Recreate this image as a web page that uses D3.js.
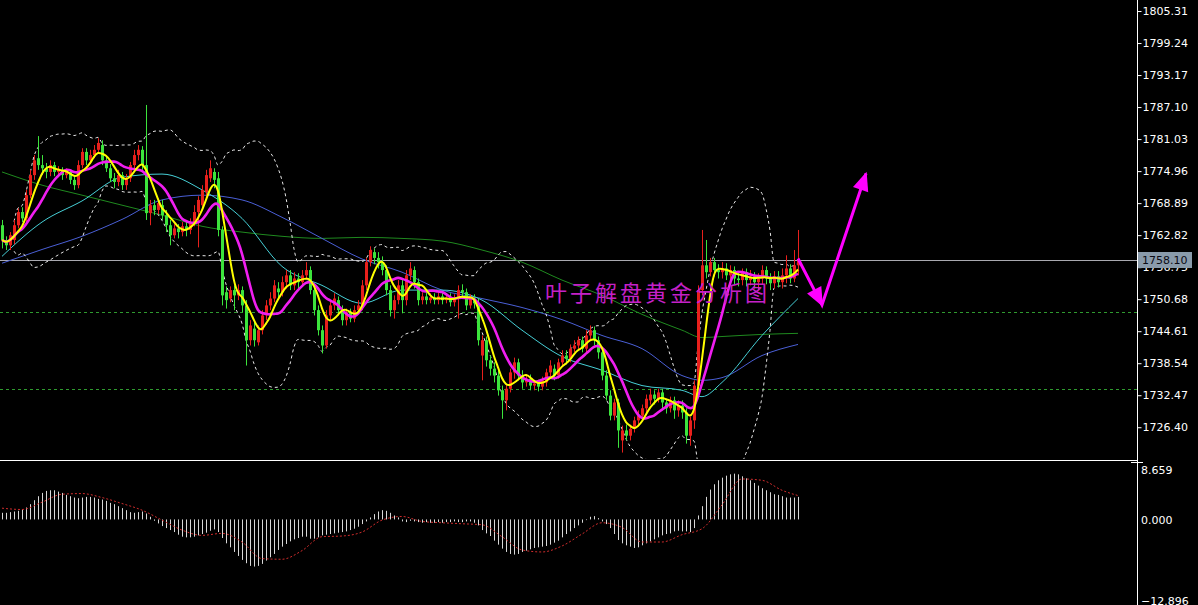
<!DOCTYPE html>
<html><head><meta charset="utf-8">
<script src="https://cdn.jsdelivr.net/npm/d3@7"></script>
<style>html,body{margin:0;padding:0;background:#000;overflow:hidden}</style>
</head><body>
<svg id="c" width="1198" height="605"></svg>
<script>
// ---------- DATA ----------
const openP=[1764.7,1761.9,1760.9,1761.9,1764.7,1767.2,1766.0,1770.4,1774.2,1777.4,
1776.1,1775.5,1774.8,1776.1,1774.8,1775.2,1774.2,1774.8,1773.3,1772.3,
1776.1,1778.6,1777.0,1778.0,1779.0,1779.9,1777.0,1775.5,1773.6,1772.9,
1774.2,1772.3,1773.6,1776.1,1778.0,1779.0,1776.1,1767.0,1768.5,1767.6,
1768.5,1766.6,1764.7,1762.8,1764.1,1763.4,1764.5,1763.8,1765.3,1767.2,
1768.5,1771.0,1773.6,1774.8,1773.6,1763.8,1752.0,1750.8,1752.4,1751.4,
1752.4,1749.5,1742.9,1745.1,1742.5,1744.8,1747.6,1749.5,1750.8,1752.7,
1752.0,1753.9,1755.2,1753.3,1754.6,1753.9,1755.2,1756.2,1752.4,1748.6,
1744.8,1741.9,1747.6,1749.5,1750.5,1748.6,1746.7,1748.2,1747.0,1748.6,
1749.5,1753.3,1757.7,1759.6,1758.5,1757.7,1756.2,1752.4,1748.6,1750.5,
1753.3,1750.5,1755.2,1756.2,1753.9,1750.5,1751.2,1750.5,1751.0,1750.5,
1751.2,1750.5,1751.0,1750.1,1750.8,1752.4,1752.0,1749.5,1750.8,1749.9,
1740.0,1742.9,1739.1,1737.5,1736.2,1733.4,1731.5,1733.7,1736.8,1738.7,
1736.2,1734.9,1735.6,1734.3,1734.7,1734.1,1734.9,1736.8,1737.5,1736.2,
1738.7,1740.0,1739.4,1741.3,1741.9,1742.9,1741.3,1743.8,1744.8,1742.9,
1740.6,1736.2,1732.4,1728.6,1731.1,1723.9,1725.8,1724.8,1726.1,1727.7,
1728.6,1730.0,1731.5,1732.6,1731.8,1733.0,1731.1,1730.0,1731.5,1729.6,
1730.5,1729.2,1724.8,1727.7,1734.3,1752.4,1757.1,1755.8,1757.7,1756.2,
1755.8,1756.5,1755.2,1756.2,1754.6,1754.3,1755.8,1754.3,1755.0,1753.9,
1754.6,1756.2,1754.6,1753.7,1755.0,1753.9,1755.2,1756.5,1754.6,1757.1];
const highP=[1765.7,1762.6,1763.4,1765.7,1767.9,1768.1,1771.4,1775.2,1778.0,1781.6,
1778.0,1776.5,1777.0,1776.7,1775.9,1775.7,1775.5,1775.2,1774.0,1777.0,
1779.3,1779.3,1779.0,1779.9,1781.2,1780.8,1777.8,1776.3,1774.6,1775.2,
1774.8,1774.4,1776.7,1779.0,1779.9,1779.7,1787.5,1769.5,1769.5,1769.8,
1769.5,1767.6,1765.7,1764.9,1764.9,1765.3,1765.3,1766.0,1768.5,1770.2,
1772.3,1775.2,1777.0,1775.5,1774.8,1764.5,1753.1,1753.1,1753.3,1753.5,
1753.1,1750.5,1746.7,1746.3,1745.7,1748.6,1750.5,1752.0,1754.3,1753.9,
1755.0,1756.2,1756.2,1755.8,1755.6,1756.2,1757.7,1756.9,1753.3,1749.5,
1745.7,1748.6,1750.5,1751.8,1751.2,1749.5,1748.9,1748.9,1749.5,1750.5,
1754.3,1758.5,1760.7,1760.3,1759.6,1758.8,1757.1,1753.3,1751.4,1754.3,
1754.3,1756.2,1757.7,1756.9,1754.6,1752.0,1752.0,1751.8,1751.8,1752.0,
1752.0,1751.8,1751.8,1751.6,1753.3,1753.5,1752.7,1751.6,1751.6,1750.8,
1743.8,1743.6,1740.0,1738.7,1737.2,1734.3,1734.5,1737.5,1739.6,1739.4,
1737.2,1736.4,1736.4,1735.4,1735.4,1736.0,1737.5,1739.1,1738.3,1739.4,
1741.0,1741.0,1742.1,1742.9,1743.6,1743.6,1744.8,1745.7,1745.5,1743.6,
1741.3,1737.2,1733.4,1731.8,1731.8,1726.7,1726.9,1726.9,1728.4,1729.6,
1730.7,1732.6,1733.7,1733.4,1733.7,1733.7,1731.8,1732.2,1732.2,1731.5,
1731.5,1730.0,1728.4,1735.3,1753.3,1763.8,1761.9,1758.5,1758.5,1757.3,
1757.7,1757.5,1757.1,1756.9,1755.8,1756.5,1756.5,1756.2,1755.8,1755.6,
1757.1,1756.9,1755.6,1756.0,1756.0,1756.5,1759.0,1757.3,1760.0,1763.8];
const lowP=[1760.3,1760.0,1760.0,1761.1,1764.1,1765.3,1765.3,1769.8,1773.3,1775.2,
1774.2,1773.6,1774.0,1774.0,1773.8,1773.3,1773.6,1772.5,1771.4,1771.7,
1775.5,1776.1,1776.3,1777.4,1778.4,1776.1,1774.8,1772.9,1771.7,1772.1,
1771.4,1771.4,1772.9,1775.5,1777.0,1775.2,1765.7,1764.7,1766.6,1766.8,
1765.7,1763.4,1760.9,1762.2,1762.2,1762.6,1762.6,1763.0,1764.5,1760.5,
1767.6,1770.2,1772.9,1771.7,1762.6,1749.5,1748.9,1750.1,1748.6,1750.5,
1748.2,1738.1,1741.9,1741.7,1741.9,1744.0,1746.7,1748.6,1750.1,1750.8,
1751.2,1752.7,1752.4,1752.4,1752.7,1753.1,1754.3,1751.6,1747.6,1743.8,
1740.4,1741.3,1746.7,1748.6,1747.6,1745.7,1745.7,1746.3,1746.3,1747.8,
1748.6,1752.4,1756.9,1757.3,1756.5,1755.2,1751.4,1747.4,1747.0,1749.7,
1748.0,1749.5,1754.3,1752.7,1749.5,1749.7,1749.7,1749.9,1749.7,1749.7,
1749.7,1749.9,1749.3,1749.3,1747.0,1750.8,1748.6,1748.9,1748.9,1741.9,
1735.3,1737.9,1736.2,1734.9,1732.4,1728.0,1729.6,1733.0,1735.6,1735.3,
1733.7,1734.1,1733.4,1733.4,1733.2,1733.4,1734.1,1736.0,1735.3,1735.6,
1737.9,1738.3,1738.7,1740.6,1741.0,1740.6,1740.6,1742.9,1741.9,1739.4,
1735.3,1731.5,1727.7,1727.7,1722.5,1721.6,1723.9,1723.9,1725.4,1726.9,
1728.0,1729.2,1730.7,1730.7,1731.1,1730.0,1729.0,1729.2,1728.0,1728.4,
1728.0,1723.3,1722.9,1726.1,1733.4,1751.4,1754.6,1755.0,1755.0,1754.6,
1754.6,1754.3,1754.3,1753.5,1753.1,1753.3,1753.1,1753.3,1752.7,1752.4,
1753.5,1753.5,1752.4,1752.7,1752.9,1752.7,1753.7,1753.7,1753.9,1755.2];
const closeP=[1761.9,1760.9,1762.8,1764.7,1767.2,1766.0,1770.4,1774.2,1777.0,1776.1,
1775.5,1774.8,1776.1,1774.8,1775.2,1774.2,1774.8,1773.3,1772.3,1776.1,
1778.6,1777.0,1778.0,1779.0,1780.3,1777.0,1775.5,1773.6,1772.9,1774.2,
1772.3,1773.6,1776.1,1778.0,1779.0,1776.1,1767.0,1768.5,1767.6,1768.9,
1766.6,1764.7,1762.8,1764.1,1763.4,1764.5,1763.8,1765.3,1767.2,1769.5,
1771.4,1774.2,1775.5,1773.3,1763.8,1751.4,1750.5,1752.4,1751.4,1752.4,
1749.5,1742.9,1745.7,1742.9,1744.8,1747.6,1749.5,1750.8,1753.3,1752.0,
1753.9,1755.2,1753.3,1754.6,1753.9,1755.2,1756.2,1752.4,1748.6,1744.8,
1741.9,1747.6,1749.5,1750.8,1748.6,1746.7,1748.2,1747.0,1748.6,1749.5,
1753.3,1757.7,1760.0,1758.5,1757.7,1756.2,1752.4,1748.6,1750.5,1753.3,
1750.5,1755.2,1756.5,1753.9,1750.5,1751.2,1750.5,1751.0,1750.5,1751.2,
1750.5,1751.0,1750.1,1750.8,1752.4,1752.0,1749.5,1750.8,1749.9,1742.9,
1742.9,1739.1,1737.5,1736.2,1733.4,1731.5,1733.7,1736.8,1738.7,1736.2,
1734.9,1735.6,1734.3,1734.7,1734.1,1735.3,1736.8,1738.1,1736.2,1738.7,
1740.0,1739.4,1741.3,1741.9,1742.9,1741.3,1743.8,1744.8,1742.9,1740.6,
1736.2,1732.4,1728.6,1731.1,1725.8,1725.8,1724.8,1726.1,1727.7,1728.6,
1730.0,1731.8,1732.6,1731.8,1733.0,1731.1,1730.0,1731.5,1729.6,1730.5,
1729.2,1724.8,1727.7,1734.3,1752.4,1757.1,1755.8,1757.7,1756.2,1755.8,
1756.5,1755.2,1756.2,1754.6,1754.3,1755.8,1754.3,1755.0,1753.9,1754.6,
1756.2,1754.6,1753.7,1755.0,1753.9,1755.2,1756.5,1754.6,1757.1,1758.1];

const priceTicks=[1805.31,1799.24,1793.17,1787.10,1781.03,1774.96,1768.89,1762.82,1756.75,1750.68,1744.61,1738.54,1732.47,1726.40];
const lastPrice=1758.10;
const levelLines=[1748.2,1733.7];

// long moving averages read at sample bars
const sampleIdx=[0,10,20,30,40,50,60,70,80,90,100,110,120,130,140,150,160,170,175,180,190,199];
const maCyan=[1758.8,1765.3,1769.3,1773.8,1774.4,1771.4,1766.0,1756.9,1753.3,1749.9,1752.4,1752.4,1750.5,1744.8,1739.8,1737.2,1734.3,1733.4,1732.2,1734.9,1743.8,1750.8];
const maBlue=[1757.5,1760.1,1762.6,1765.8,1769.5,1770.4,1769.5,1766.2,1762.2,1758.3,1755.8,1752.4,1750.8,1749.1,1746.8,1743.8,1741.3,1736.2,1735.3,1735.8,1740.0,1742.1];
const maGreen=[1774.8,1772.3,1770.4,1768.5,1766.6,1764.5,1763.4,1762.6,1762.2,1762.4,1762.2,1761.7,1760.0,1757.7,1754.3,1751.4,1747.8,1744.8,1743.4,1743.6,1744.0,1744.2];

// MACD
const macdHist=[1.0,1.0,1.1,1.2,1.3,1.5,1.8,2.3,2.9,3.5,
4.0,4.3,4.4,4.4,4.2,4.0,3.7,3.5,3.3,3.2,
3.3,3.4,3.4,3.3,3.1,3.0,2.8,2.5,2.3,2.0,
1.7,1.4,1.1,1.0,1.1,1.2,0.9,0.4,-0.2,-0.6,
-1.0,-1.3,-1.6,-1.9,-2.3,-2.6,-2.7,-2.7,-2.6,-2.4,
-2.2,-2.0,-1.7,-1.5,-1.9,-2.8,-3.6,-4.2,-4.9,-5.5,
-6.1,-6.6,-7.0,-7.1,-7.0,-6.7,-6.2,-5.7,-5.2,-4.6,
-4.1,-3.7,-3.3,-3.0,-2.8,-2.6,-2.6,-2.9,-2.9,-2.7,
-2.4,-2.3,-2.2,-2.1,-2.0,-1.9,-1.8,-1.6,-1.4,-1.1,
-0.7,-0.3,0.3,0.8,1.2,1.4,1.3,1.0,0.6,0.3,
-0.3,-0.4,-0.2,-0.3,-0.4,-0.5,-0.4,-0.5,-0.5,-0.4,
-0.5,-0.4,-0.4,-0.3,-0.4,-0.4,-0.3,-0.3,-0.5,-0.9,
-1.6,-2.1,-2.5,-3.2,-3.8,-4.4,-4.9,-5.2,-5.3,-5.2,
-4.9,-4.7,-4.5,-4.3,-4.2,-4.1,-4.0,-3.8,-3.5,-3.2,
-2.7,-2.2,-1.8,-1.3,-0.9,-0.5,-0.1,0.4,0.5,0.2,
-0.3,-0.7,-1.3,-2.2,-3.1,-3.6,-3.9,-4.1,-4.3,-4.2,
-3.9,-3.6,-3.3,-3.0,-2.7,-2.4,-2.2,-2.1,-1.8,-1.7,
-1.8,-1.8,-1.9,-1.3,0.6,2.0,3.4,4.5,5.3,5.9,
6.3,6.6,6.8,6.9,6.8,6.5,6.2,5.9,5.5,5.1,
4.7,4.4,4.1,3.8,3.7,3.5,3.3,3.3,3.3,3.4];
const signalIdx=[0,5,10,15,20,25,30,35,40,45,50,55,60,65,70,75,80,85,90,95,100,105,110,115,120,125,130,135,140,145,150,155,160,165,170,175,180,185,190,195,199];
const macdSignal=[1.7,1.5,2.6,3.8,3.9,3.3,2.4,1.4,-0.1,-1.6,-2.4,-2.1,-3.4,-5.9,-6.0,-4.7,-2.6,-2.5,-1.9,-0.1,0.45,-0.3,-0.5,-0.65,-0.8,-2.6,-4.6,-4.9,-4.0,-2.2,-0.5,-1.2,-3.4,-3.4,-2.3,-1.4,2.2,6.1,5.9,4.4,3.6];
const macdTicks=[8.659,0,-12.896];

const watermark="叶子解盘黄金分析图";
const arrowPts=[[199,1758.4],[205,1749.6],[216,1774.5]];

// ---------- LAYOUT ----------
const W=1198,H=605,AX=1137,MAIN_BOTTOM=459,SUB_TOP=462;
const N=closeP.length;
const svg=d3.select("#c");
svg.append("rect").attr("width",W).attr("height",H).attr("fill","#000");

const x=d3.scaleLinear().domain([0,N-1]).range([2,798]);
const y=d3.scaleLinear().domain([1720.38,1807.40]).range([MAIN_BOTTOM,0]);
const ym=d3.scaleLinear().domain([-12.896,8.659]).range([H,SUB_TOP]);

const defs=svg.append("defs");
defs.append("clipPath").attr("id","cm").append("rect").attr("x",0).attr("y",0).attr("width",AX).attr("height",MAIN_BOTTOM);
defs.append("clipPath").attr("id","cs").append("rect").attr("x",0).attr("y",SUB_TOP).attr("width",AX).attr("height",H-SUB_TOP);

const gm=svg.append("g").attr("clip-path","url(#cm)");
const gs=svg.append("g").attr("clip-path","url(#cs)");

// indicators computed from closes
function sma(arr,n){return arr.map((v,i)=>{const s=arr.slice(Math.max(0,i-n+1),i+1);return d3.mean(s);});}
function boll(arr,n,k){return arr.map((v,i)=>{const s=arr.slice(Math.max(0,i-n+1),i+1);const m=d3.mean(s);const sd=Math.sqrt(d3.mean(s.map(q=>(q-m)*(q-m))));return {i,up:m+k*sd,lo:m-k*sd};});}
const maYellow=sma(closeP,5);
const maMag=sma(closeP,10);
const bb=boll(closeP,20,2).filter(d=>d.i>=3);

// level lines
gm.selectAll(".lvl").data(levelLines).join("line")
  .attr("x1",0).attr("x2",AX).attr("y1",d=>Math.round(y(d))+0.5).attr("y2",d=>Math.round(y(d))+0.5)
  .attr("stroke","#2f9a2f").attr("stroke-width",1).attr("stroke-dasharray","3,3");

// current price line
gm.append("line").attr("x1",0).attr("x2",AX).attr("y1",Math.round(y(lastPrice))+0.5).attr("y2",Math.round(y(lastPrice))+0.5)
  .attr("stroke","#a9a9b0").attr("stroke-width",1);

// long MAs
const sl=(arr)=>d3.line().x((d,j)=>x(sampleIdx[j])).y(d=>y(d)).curve(d3.curveMonotoneX)(arr);
gm.append("path").attr("d",sl(maGreen)).attr("fill","none").attr("stroke","#1f8a1f").attr("stroke-width",1);
gm.append("path").attr("d",sl(maBlue)).attr("fill","none").attr("stroke","#4a5fd6").attr("stroke-width",1);
gm.append("path").attr("d",sl(maCyan)).attr("fill","none").attr("stroke","#46cfd6").attr("stroke-width",1);

// bollinger
const bl=(k)=>d3.line().x(d=>x(d.i)).y(d=>y(d[k])).curve(d3.curveMonotoneX)(bb);
gm.append("path").attr("d",bl("up")).attr("fill","none").attr("stroke","#e8e8e8").attr("stroke-width",1).attr("stroke-dasharray","3,3");
gm.append("path").attr("d",bl("lo")).attr("fill","none").attr("stroke","#e8e8e8").attr("stroke-width",1).attr("stroke-dasharray","3,3");

// candles
const idx=d3.range(N);
const up=i=>closeP[i]>openP[i];
const col=i=>up(i)?"#e8201c":"#3ce43c";
gm.selectAll(".wick").data(idx).join("line")
  .attr("x1",i=>x(i)+0.5).attr("x2",i=>x(i)+0.5)
  .attr("y1",i=>y(highP[i])).attr("y2",i=>y(lowP[i]))
  .attr("stroke",col).attr("stroke-width",1);
gm.selectAll(".body").data(idx).join("rect")
  .attr("x",i=>x(i)-1).attr("width",3)
  .attr("y",i=>y(Math.max(openP[i],closeP[i])))
  .attr("height",i=>Math.max(1,Math.abs(y(openP[i])-y(closeP[i]))))
  .attr("fill",col);

// short MAs
const ml=d3.line().x((d,i)=>x(i)).y(d=>y(d)).curve(d3.curveBasis);
gm.append("path").attr("d",ml(maMag)).attr("fill","none").attr("stroke","#f01ef0").attr("stroke-width",2.6);
gm.append("path").attr("d",ml(maYellow)).attr("fill","none").attr("stroke","#ffff00").attr("stroke-width",2);

// watermark
svg.append("text").attr("x",545).attr("y",301).text(watermark)
  .attr("font-family","'Noto Sans CJK SC'").attr("font-size",22).attr("letter-spacing",3)
  .attr("fill","#c520c8");

// arrow
const ap=arrowPts.map(p=>[x(p[0]),y(p[1])]);
svg.append("path").attr("d",d3.line()(ap)).attr("fill","none").attr("stroke","#ff00ff").attr("stroke-width",3).attr("stroke-linejoin","miter");
function head(a,b){const dx=b[0]-a[0],dy=b[1]-a[1],L=Math.hypot(dx,dy),ux=dx/L,uy=dy/L,len=17,hw=8;
  const bx=b[0]-ux*len,by=b[1]-uy*len;
  return [[b[0]+ux*2,b[1]+uy*2],[bx-uy*hw,by+ux*hw],[bx+uy*hw,by-ux*hw]];}
[[ap[0],ap[1]],[ap[1],ap[2]]].forEach(([a,b])=>{
  svg.append("path").attr("d",d3.line()(head(a,b))+"Z").attr("fill","#ff00ff");
});

// MACD histogram and signal
gs.selectAll(".hb").data(idx).join("line")
  .attr("x1",i=>x(i)+0.5).attr("x2",i=>x(i)+0.5)
  .attr("y1",ym(0)).attr("y2",i=>ym(macdHist[i]))
  .attr("stroke","#d8d8d8").attr("stroke-width",1);
gs.append("path").attr("d",d3.line().x((d,j)=>x(signalIdx[j])).y(d=>ym(d)).curve(d3.curveMonotoneX)(macdSignal))
  .attr("fill","none").attr("stroke","#d02c2c").attr("stroke-width",1).attr("stroke-dasharray","2,2");

// separators / axis line
svg.append("line").attr("x1",0).attr("x2",AX).attr("y1",460.5).attr("y2",460.5).attr("stroke","#ffffff").attr("stroke-width",1);
svg.append("line").attr("x1",AX-6).attr("x2",AX+6).attr("y1",462.5).attr("y2",462.5).attr("stroke","#ffffff").attr("stroke-width",1);
svg.append("line").attr("x1",AX+0.5).attr("x2",AX+0.5).attr("y1",0).attr("y2",H).attr("stroke","#ffffff").attr("stroke-width",1);

// price axis
const ax=svg.append("g").attr("transform",`translate(${AX+0.5},0)`)
  .call(d3.axisRight(y).tickValues(priceTicks).tickFormat(d3.format(".2f")).tickSize(4).tickPadding(1));
ax.select(".domain").remove();
ax.selectAll("line").attr("stroke","#fff");
ax.selectAll("text").attr("fill","#fff").attr("font-family","'DejaVu Sans'").attr("font-size",11);

// last price box
const ly=y(lastPrice);
svg.append("rect").attr("x",AX+1).attr("y",Math.round(ly)-8).attr("width",54).attr("height",16).attr("fill","#8a9bab");
svg.append("text").attr("x",AX+5).attr("y",ly).attr("dy","0.35em").text(d3.format(".2f")(lastPrice))
  .attr("fill","#0a0a14").attr("font-family","'DejaVu Sans'").attr("font-size",11);

// MACD labels
svg.selectAll(".ml").data(macdTicks).join("text")
  .attr("x",AX+4).attr("y",d=>Math.min(H-4,Math.max(SUB_TOP+8,ym(d)+1)))
  .attr("dy","0.35em").text(d=>d3.format(".3f")(d))
  .attr("fill","#fff").attr("font-family","'DejaVu Sans'").attr("font-size",11);
</script>
</body></html>
